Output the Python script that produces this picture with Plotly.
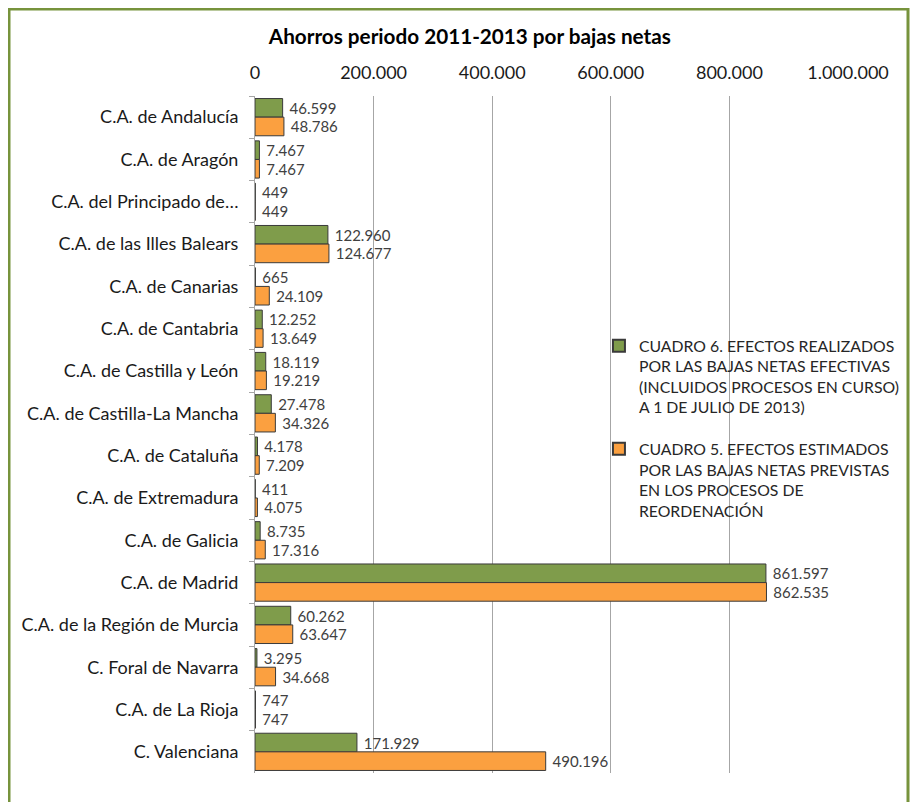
import plotly.graph_objects as go

categories = [
    "C.A. de Andalucía", "C.A. de Aragón", "C.A. del Principado de…",
    "C.A. de las Illes Balears", "C.A. de Canarias", "C.A. de Cantabria",
    "C.A. de Castilla y León", "C.A. de Castilla-La Mancha", "C.A. de Cataluña",
    "C.A. de Extremadura", "C.A. de Galicia", "C.A. de Madrid",
    "C.A. de la Región de Murcia", "C. Foral de Navarra", "C.A. de La Rioja",
    "C. Valenciana",
]
cuadro6 = [46599, 7467, 449, 122960, 665, 12252, 18119, 27478, 4178, 411,
           8735, 861597, 60262, 3295, 747, 171929]
cuadro5 = [48786, 7467, 449, 124677, 24109, 13649, 19219, 34326, 7209, 4075,
           17316, 862535, 63647, 34668, 747, 490196]
name6 = "CUADRO 6. EFECTOS REALIZADOS<br>POR LAS BAJAS NETAS EFECTIVAS<br>(INCLUIDOS PROCESOS EN CURSO)<br>A 1 DE JULIO DE 2013)"
name5 = "CUADRO 5. EFECTOS ESTIMADOS<br>POR LAS BAJAS NETAS PREVISTAS<br>EN LOS PROCESOS DE<br>REORDENACIÓN"
title = "Ahorros periodo 2011-2013 por bajas netas"

FONT = "Lato"
green = "#7F9C4B"
orange = "#FBA040"

fig = go.Figure()
fig.add_trace(go.Bar(
    y=categories, x=cuadro6, orientation="h", name=name6, legendgroup="c6",
    marker=dict(color=green, line=dict(color="#3a3a3a", width=1)),
    texttemplate=" %{x:,d}", textposition="outside",
    textfont=dict(family=FONT, size=15, color="#404040"), cliponaxis=False,
))
fig.add_trace(go.Bar(
    y=categories, x=cuadro5, orientation="h", name=name5, legendgroup="c5",
    marker=dict(color=orange, line=dict(color="#3a3a3a", width=1)),
    texttemplate=" %{x:,d}", textposition="outside",
    textfont=dict(family=FONT, size=15, color="#404040"), cliponaxis=False,
))

PW, PH = 593, 677
fig.update_layout(
    width=902, height=794,
    paper_bgcolor="white", plot_bgcolor="white",
    separators=",.",
    barmode="group", bargap=0.12, bargroupgap=0.0,
    margin=dict(l=247, r=62, t=88, b=29, autoexpand=False),
    font=dict(family=FONT, size=18, color="#1a1a1a"),
    title=dict(text="<b>" + title + "</b>", x=0.512, xanchor="center",
               y=1 - 29 / 794, yanchor="middle", yref="container",
               font=dict(family=FONT, size=20.7, color="#000000")),
    xaxis=dict(side="top", range=[0, 1000000], dtick=200000, tickformat=",d",
               showgrid=True, gridcolor="#A6A6A6", gridwidth=1,
               zeroline=False, showline=False, ticks="", automargin=False,
               ticklabelstandoff=12,
               tickfont=dict(family=FONT, size=18, color="#1a1a1a")),
    yaxis=dict(autorange="reversed", showline=True, linecolor="#A6A6A6",
               linewidth=1, ticks="outside", tickson="boundaries", ticklen=5,
               tickcolor="#A6A6A6", ticklabelstandoff=12, automargin=False,
               tickfont=dict(family=FONT, size=18, color="#1a1a1a")),
    legend=dict(x=0.58, y=0.656, xanchor="left", yanchor="top",
                bgcolor="rgba(0,0,0,0)", traceorder="grouped", valign="top",
                font=dict(family=FONT, size=15.8, color="#262626"),
                itemsizing="constant", itemwidth=30, tracegroupgap=18),
    showlegend=True,
    shapes=[dict(type="rect", xref="paper", yref="paper",
                 x0=(1 - 247) / PW, x1=(900 - 247) / PW,
                 y0=-0.1, y1=1 + 87 / PH,
                 line=dict(color="#77933C", width=3), fillcolor="rgba(0,0,0,0)",
                 layer="below")],
)

fig.write_html("out.html")
